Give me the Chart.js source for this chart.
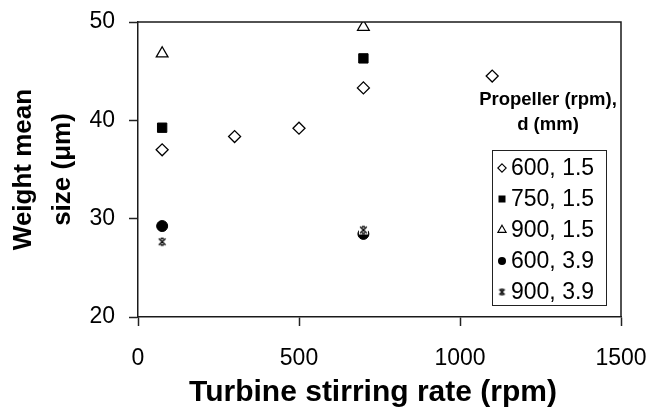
<!DOCTYPE html>
<html><head><meta charset="utf-8">
<script src="https://cdn.jsdelivr.net/npm/chart.js@4"></script>
<style>html,body{margin:0;padding:0;background:#fff}#wrap{width:650px;height:408px}</style>
</head><body><div id="wrap"><canvas id="c" width="650" height="408"></canvas></div>
<script>
// ---- data ----
const seriesLabels = ['600, 1.5', '750, 1.5', '900, 1.5', '600, 3.9', '900, 3.9'];
const turbine_600_15 = [75, 300, 500, 700, 1100];
const size_600_15 = [37.0, 38.35, 39.2, 43.3, 44.5];
const turbine_750_15 = [75, 700];
const size_750_15 = [39.25, 46.3];
const turbine_900_15 = [75, 700];
const size_900_15 = [46.8, 49.5];
const turbine_600_39 = [75, 700];
const size_600_39 = [29.25, 28.45];
const turbine_900_39 = [75, 700];
const size_900_39 = [27.65, 28.85];
const xTicks = [0, 500, 1000, 1500];
const yTicks = [20, 30, 40, 50];
const xTitle = 'Turbine stirring rate (rpm)';
const yTitle = ['Weight mean', 'size (\u03bcm)'];
const legendTitle = ['Propeller (rpm),', 'd (mm)'];

const FONT = '"Liberation Sans", Arial, Helvetica, sans-serif';
const pts = (xs, ys) => xs.map((x, i) => ({x: x, y: ys[i]}));

function makeStar(n, backing) {
  const c = document.createElement('canvas');
  c.width = n; c.height = n;
  const g = c.getContext('2d');
  const m = n / 2, h = n * 0.3;
  if (backing) { g.fillStyle = '#fff'; g.fillRect(1, 1, n - 2, n - 2); }
  g.strokeStyle = '#000'; g.lineWidth = 1.4;
  g.beginPath();
  g.moveTo(m - h, m - h); g.lineTo(m + h, m + h);
  g.moveTo(m + h, m - h); g.lineTo(m - h, m + h);
  g.moveTo(m - h * 0.45, m - h); g.lineTo(m + h * 0.45, m - h);
  g.moveTo(m - h * 0.45, m + h); g.lineTo(m + h * 0.45, m + h);
  g.stroke();
  return c;
}
const starPlot = makeStar(11, true);
const starLegend = makeStar(9, false);

const styles = [
  {pointStyle: 'rectRot', pointRadius: 6, backgroundColor: '#fff', borderColor: '#000', borderWidth: 1.3},
  {pointStyle: 'rect', pointRadius: 6.6, backgroundColor: '#000', borderColor: '#000', borderWidth: 1},
  {pointStyle: 'triangle', pointRadius: 6.75, backgroundColor: '#fff', borderColor: '#000', borderWidth: 1.3},
  {pointStyle: 'circle', pointRadius: 5.5, backgroundColor: '#000', borderColor: '#000', borderWidth: 1},
  {pointStyle: starPlot, pointRadius: 5, backgroundColor: '#000', borderColor: '#000', borderWidth: 1}
];
const dataArr = [
  pts(turbine_600_15, size_600_15),
  pts(turbine_750_15, size_750_15),
  pts(turbine_900_15, size_900_15),
  pts(turbine_600_39, size_600_39),
  pts(turbine_900_39, size_900_39)
];
const datasets = dataArr.map((d, i) => Object.assign({
  label: seriesLabels[i], data: d, showLine: false, order: i === 4 ? 0 : 1
}, styles[i]));

function legendMarker(ctx, i, x, y) {
  ctx.save();
  ctx.strokeStyle = '#000'; ctx.fillStyle = '#000'; ctx.lineWidth = 1.1;
  ctx.beginPath();
  if (i === 0) {
    const r = 4.2;
    ctx.moveTo(x, y - r); ctx.lineTo(x + r, y); ctx.lineTo(x, y + r); ctx.lineTo(x - r, y); ctx.closePath();
    ctx.fillStyle = '#fff'; ctx.fill(); ctx.stroke();
  } else if (i === 1) {
    ctx.fillRect(x - 3.5, y - 3.5, 7, 7);
  } else if (i === 2) {
    const r = 4.8;
    ctx.moveTo(x, y - r); ctx.lineTo(x + 0.866 * r, y + 0.5 * r); ctx.lineTo(x - 0.866 * r, y + 0.5 * r); ctx.closePath();
    ctx.fillStyle = '#fff'; ctx.fill(); ctx.stroke();
  } else if (i === 3) {
    ctx.arc(x, y, 4, 0, Math.PI * 2); ctx.fill();
  } else {
    ctx.drawImage(starLegend, x - starLegend.width / 2, y - starLegend.height / 2);
  }
  ctx.restore();
}

const framePlugin = {
  id: 'frameLegend',
  afterDraw(chart) {
    const ctx = chart.ctx, ca = chart.chartArea;
    ctx.save();
    ctx.strokeStyle = '#1a1a1a'; ctx.lineWidth = 1.5;
    ctx.beginPath();
    ctx.moveTo(ca.left, ca.top); ctx.lineTo(ca.right, ca.top); ctx.lineTo(ca.right, ca.bottom);
    ctx.stroke();
    // x axis title (slightly left of centre, as in the reference)
    ctx.fillStyle = '#000';
    ctx.font = 'bold 30px ' + FONT;
    ctx.textAlign = 'center'; ctx.textBaseline = 'middle';
    ctx.fillText(xTitle, 373, 393);
    // legend title
    ctx.font = 'bold 18.5px ' + FONT;
    ctx.fillText(legendTitle[0], 548, 99.5);
    ctx.fillText(legendTitle[1], 548, 124.5);
    // legend box
    ctx.lineWidth = 1; ctx.strokeStyle = '#222';
    ctx.strokeRect(492.5, 150.5, 114, 155);
    ctx.font = '23px ' + FONT;
    ctx.textAlign = 'left';
    chart.data.datasets.forEach((ds, i) => {
      const y = 168 + i * 31;
      legendMarker(ctx, i, 502, y);
      ctx.fillStyle = '#000';
      ctx.fillText(ds.label, 511, y + 1);
    });
    ctx.restore();
  }
};

function noPad(s) { s.paddingLeft = 0; s.paddingRight = 0; s.paddingTop = 0; s.paddingBottom = 0; }

new Chart(document.getElementById('c'), {
  type: 'scatter',
  data: {datasets: datasets},
  options: {
    responsive: false,
    animation: false,
    events: [],
    layout: {padding: {top: 22, right: 29, left: 0, bottom: 0}},
    plugins: {legend: {display: false}, tooltip: {enabled: false}},
    scales: {
      x: {
        type: 'linear', min: 0, max: 1500,
        afterBuildTicks(s) { s.ticks = xTicks.map(v => ({value: v})); },
        afterFit(s) { s.height = 408 - 317; noPad(s); },
        grid: {drawOnChartArea: false, drawTicks: true, tickLength: 9, tickColor: '#222', tickWidth: 1.5},
        border: {display: true, color: '#1a1a1a', width: 1.5},
        ticks: {color: '#000', font: {family: FONT, size: 23}, padding: 19, maxRotation: 0, autoSkip: false, callback: v => String(v)},
        title: {display: false}
      },
      y: {
        type: 'linear', min: 20, max: 50,
        afterBuildTicks(s) { s.ticks = yTicks.map(v => ({value: v})); },
        afterFit(s) { s.width = 138; noPad(s); },
        grid: {drawOnChartArea: false, drawTicks: true, tickLength: 9, tickColor: '#222', tickWidth: 1.5},
        border: {display: true, color: '#1a1a1a', width: 1.5},
        ticks: {color: '#000', font: {family: FONT, size: 23}, padding: 14, autoSkip: false, callback: v => String(v)},
        title: {display: true, text: yTitle, color: '#000', font: {family: FONT, size: 26, weight: 'bold', lineHeight: 1.52}, padding: {top: 4, bottom: 0}}
      }
    }
  },
  plugins: [framePlugin]
});
</script>
</body></html>
